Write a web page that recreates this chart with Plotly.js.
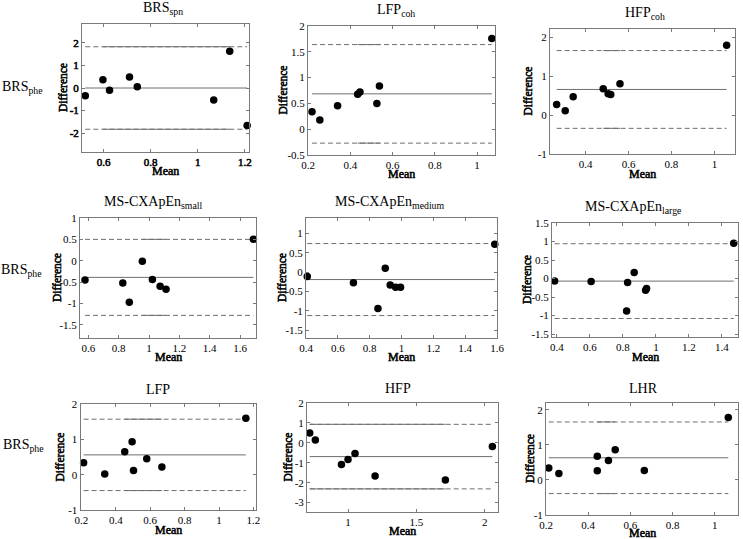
<!DOCTYPE html>
<html>
<head>
<meta charset="utf-8">
<script src="https://cdn.plot.ly/plotly-3.0.1.min.js"></script>
<style>
  html, body { margin: 0; padding: 0; background: #fff; }
  #chart { width: 743px; height: 539px; }
  /* heavier serif strokes for tick numbers and axis titles */
  #chart .xtick text, #chart .ytick text, #chart .axis-label text {
    stroke: #000 !important; stroke-width: 0.55px !important; paint-order: stroke;
  }
</style>
</head>
<body>
<div id="chart"></div>
<script>
// Bland-Altman agreement of BRS_phe against each spectral / entropy index.
// Each panel: mean of the two methods (x) vs. their difference (y),
// limits of agreement given as [lower, mean, upper].

const brsSpnMean = [0.522, 0.597, 0.625, 0.71, 0.743, 1.068, 1.136, 1.21];
const brsSpnDiff = [-0.34, 0.37, -0.10, 0.49, 0.05, -0.53, 1.63, -1.66];
const brsSpnLimits = [-1.83, 0, 1.83];

const lfpCohMean = [0.219, 0.256, 0.34, 0.435, 0.446, 0.526, 0.538, 1.07];
const lfpCohDiff = [0.34, 0.18, 0.456, 0.676, 0.72, 0.50, 0.837, 1.76];
const lfpCohLimits = [-0.27, 0.685, 1.64];

const hfpCohMean = [0.265, 0.305, 0.342, 0.482, 0.505, 0.517, 0.56, 1.057];
const hfpCohDiff = [0.27, 0.11, 0.47, 0.68, 0.55, 0.53, 0.81, 1.80];
const hfpCohLimits = [-0.34, 0.66, 1.66];

const apEnSmallMean = [0.578, 0.827, 0.87, 0.956, 1.022, 1.073, 1.112, 1.688];
const apEnSmallDiff = [-0.45, -0.52, -0.97, -0.01, -0.44, -0.60, -0.67, 0.50];
const apEnSmallLimits = [-1.28, -0.39, 0.50];

const apEnMediumMean = [0.408, 0.698, 0.852, 0.898, 0.929, 0.963, 0.994, 1.586];
const apEnMediumDiff = [-0.11, -0.27, -0.94, 0.10, -0.33, -0.39, -0.39, 0.72];
const apEnMediumLimits = [-1.12, -0.19, 0.74];

const apEnLargeMean = [0.386, 0.607, 0.822, 0.828, 0.868, 0.937, 0.943, 1.471];
const apEnLargeDiff = [-0.07, -0.08, -0.88, -0.11, 0.16, -0.32, -0.27, 0.95];
const apEnLargeLimits = [-1.08, -0.07, 0.94];

const lfpMean = [0.213, 0.336, 0.452, 0.495, 0.503, 0.58, 0.668, 1.156];
const lfpDiff = [0.34, 0.02, 0.65, 0.93, 0.12, 0.45, 0.22, 1.60];
const lfpLimits = [-0.45, 0.56, 1.57];

const hfpMean = [0.72, 0.761, 0.952, 1.0, 1.051, 1.198, 1.712, 2.056];
const hfpDiff = [0.50, 0.14, -1.09, -0.84, -0.54, -1.66, -1.87, -0.18];
const hfpLimits = [-2.31, -0.69, 0.93];

const lhrMean = [0.213, 0.261, 0.443, 0.443, 0.496, 0.528, 0.666, 1.064];
const lhrDiff = [0.34, 0.18, 0.67, 0.26, 0.55, 0.86, 0.27, 1.78];
const lhrLimits = [-0.39, 0.63, 1.65];

const panelTitles = [
  'BRS<sub>spn</sub>', 'LFP<sub>coh</sub>', 'HFP<sub>coh</sub>',
  'MS-CXApEn<sub>small</sub>', 'MS-CXApEn<sub>medium</sub>', 'MS-CXApEn<sub>large</sub>',
  'LFP', 'HFP', 'LHR'
];
const rowLabel = 'BRS<sub>phe</sub>';
const xLabel = 'Mean';
const yLabel = 'Difference';

// ---- page geometry (pixels) ----
const W = 743, H = 539;
const SERIF = '"Liberation Serif"';
const BOX = '#7a7a7a';
const LINE = '#6e6e6e';

// box: [left, right, top, bottom] in px; titleX: title centre in px;
// yLab / xLab: offsets (px) of the axis titles from the box;
// solid: index range of sorted means over which the limit lines render solid
const panels = [
  { mean: brsSpnMean, diff: brsSpnDiff, lim: brsSpnLimits, xr: [0.508, 1.218], yr: [-2.84, 2.84], dx: 0.2, dy: 1,
    box: [82, 249, 24, 152], titleX: 163, yLab: 19, xLab: 18.5, solid: [1, 6] },
  { mean: lfpCohMean, diff: lfpCohDiff, lim: lfpCohLimits, xr: [0.2, 1.085], yr: [-0.5, 2], dx: 0.2, dy: 0.5,
    box: [308, 495, 26, 155], titleX: 396, yLab: 25, xLab: 19.5, solid: [3, 6] },
  { mean: hfpCohMean, diff: hfpCohDiff, lim: hfpCohLimits, xr: [0.234, 1.096], yr: [-1, 2.215], dx: 0.2, dy: 1,
    box: [550, 735, 29, 154], titleX: 645, yLab: 23, xLab: 20, solid: [3, 6] },
  { mean: apEnSmallMean, diff: apEnSmallDiff, lim: apEnSmallLimits, xr: [0.545, 1.705], yr: [-1.81, 1], dx: 0.2, dy: 0.5,
    box: [80, 256, 218, 338], titleX: 153, yLab: 23, xLab: 19, solid: [3, 6] },
  { mean: apEnMediumMean, diff: apEnMediumDiff, lim: apEnMediumLimits, xr: [0.4, 1.6], yr: [-1.7, 1.4], dx: 0.2, dy: 0.5,
    box: [306, 497, 218, 338], titleX: 390, yLab: 24, xLab: 19, solid: null },
  { mean: apEnLargeMean, diff: apEnLargeDiff, lim: apEnLargeLimits, xr: [0.37, 1.497], yr: [-1.58, 1.5], dx: 0.2, dy: 0.5,
    box: [552, 738, 223, 337], titleX: 633, yLab: 25, xLab: 19.5, solid: null },
  { mean: lfpMean, diff: lfpDiff, lim: lfpLimits, xr: [0.195, 1.215], yr: [-1, 2], dx: 0.2, dy: 1,
    box: [80.5, 256, 404, 510], titleX: 158, yLab: 21, xLab: 19.5, solid: [2, 6] },
  { mean: hfpMean, diff: hfpDiff, lim: hfpLimits, xr: [0.7, 2.097], yr: [-3.47, 2], dx: 0.5, dy: 1,
    box: [307, 498, 403, 512], titleX: 398, yLab: 20, xLab: 19, solid: [0, 6] },
  { mean: lhrMean, diff: lhrDiff, lim: lhrLimits, xr: [0.2, 1.11], yr: [-1, 2.19], dx: 0.2, dy: 1,
    box: [546, 738, 403, 515], titleX: 643, yLab: 16, xLab: 18, solid: [2, 5] }
];
const rowLabelPos = [[22, 88], [21, 270], [23, 445]];

function ticksFor(range, step) {
  const vals = [];
  let v = Math.ceil(range[0] / step - 1e-9) * step;
  while (v <= range[1] + 1e-9) {
    vals.push(Math.round(v * 100) / 100);
    v += step;
  }
  return { vals, text: vals.map(t => String(t)) };
}

const px2x = p => p / W;
const px2y = p => 1 - p / H;

const traces = [];
const layout = {
  width: W, height: H,
  margin: { l: 0, r: 0, t: 0, b: 0 },
  paper_bgcolor: '#fff', plot_bgcolor: '#fff',
  showlegend: false,
  annotations: [],
  font: { family: SERIF, color: '#000' }
};

panels.forEach((p, i) => {
  const n = i + 1;
  const xa = n === 1 ? 'x' : 'x' + n;
  const ya = n === 1 ? 'y' : 'y' + n;
  const [l, r, t, b] = p.box;
  const xt = ticksFor(p.xr, p.dx);
  const yt = ticksFor(p.yr, p.dy);
  const tickFont = { family: SERIF, size: 11, color: '#000' };

  layout['xaxis' + (n === 1 ? '' : n)] = {
    domain: [px2x(l), px2x(r)], anchor: ya, range: p.xr,
    showline: true, mirror: 'ticks', linecolor: BOX, linewidth: 1,
    ticks: 'inside', ticklen: 3, tickcolor: BOX,
    tickvals: xt.vals, ticktext: xt.text, tickfont: tickFont,
    showgrid: false, zeroline: false, automargin: false
  };
  layout['yaxis' + (n === 1 ? '' : n)] = {
    domain: [px2y(b), px2y(t)], anchor: xa, range: p.yr,
    showline: true, mirror: 'ticks', linecolor: BOX, linewidth: 1,
    ticks: 'inside', ticklen: 3, tickcolor: BOX,
    tickvals: yt.vals, ticktext: yt.text, tickfont: tickFont,
    showgrid: false, zeroline: false, automargin: false
  };

  const x0 = Math.min(...p.mean), x1 = Math.max(...p.mean);
  const [lo, mid, hi] = p.lim;

  // limits of agreement (dashed) and mean difference (solid)
  [lo, hi].forEach(v => {
    traces.push({ x: [x0, x1], y: [v, v], xaxis: xa, yaxis: ya, mode: 'lines',
      line: { color: LINE, width: 1, dash: '5px,3px' }, hoverinfo: 'skip' });
    if (p.solid) {
      const sorted = [...p.mean].sort((a, c) => a - c);
      traces.push({ x: [sorted[p.solid[0]], sorted[p.solid[1]]], y: [v, v], xaxis: xa, yaxis: ya, mode: 'lines',
        line: { color: LINE, width: 1 }, hoverinfo: 'skip' });
    }
  });
  traces.push({ x: [x0, x1], y: [mid, mid], xaxis: xa, yaxis: ya, mode: 'lines',
    line: { color: LINE, width: 1 }, hoverinfo: 'skip' });

  // individual subjects
  traces.push({ x: p.mean, y: p.diff, xaxis: xa, yaxis: ya, mode: 'markers',
    marker: { color: '#000', size: 7.5, line: { width: 0 } }, cliponaxis: false });

  // panel title
  layout.annotations.push({
    text: panelTitles[i], xref: 'paper', yref: 'paper',
    x: px2x(p.titleX), y: px2y(t - 5), xanchor: 'center', yanchor: 'bottom',
    showarrow: false, font: { family: SERIF, size: 14, color: '#000' }
  });
  // axis titles
  layout.annotations.push({
    text: xLabel, xref: 'paper', yref: 'paper', name: 'axis-label',
    x: px2x((l + r) / 2), y: px2y(b + p.xLab), xanchor: 'center', yanchor: 'middle',
    showarrow: false, font: { family: SERIF, size: 12, color: '#000' }
  });
  layout.annotations.push({
    text: yLabel, xref: 'paper', yref: 'paper', name: 'axis-label', textangle: -90,
    x: px2x(l - p.yLab), y: px2y((t + b) / 2), xanchor: 'center', yanchor: 'middle',
    showarrow: false, font: { family: SERIF, size: 11.5, color: '#000' }
  });
});

rowLabelPos.forEach(([cx, cy]) => {
  layout.annotations.push({
    text: rowLabel, xref: 'paper', yref: 'paper',
    x: px2x(cx), y: px2y(cy), xanchor: 'center', yanchor: 'middle',
    showarrow: false, font: { family: SERIF, size: 14, color: '#000' }
  });
});

Plotly.newPlot('chart', traces, layout, { staticPlot: true, displayModeBar: false }).then(gd => {
  // mark the axis-title annotations so the stylesheet can embolden them
  const notes = gd.querySelectorAll('.annotation');
  gd.layout.annotations.forEach((a, k) => {
    if (a.name === 'axis-label' && notes[k]) notes[k].classList.add('axis-label');
  });
});
</script>
</body>
</html>
